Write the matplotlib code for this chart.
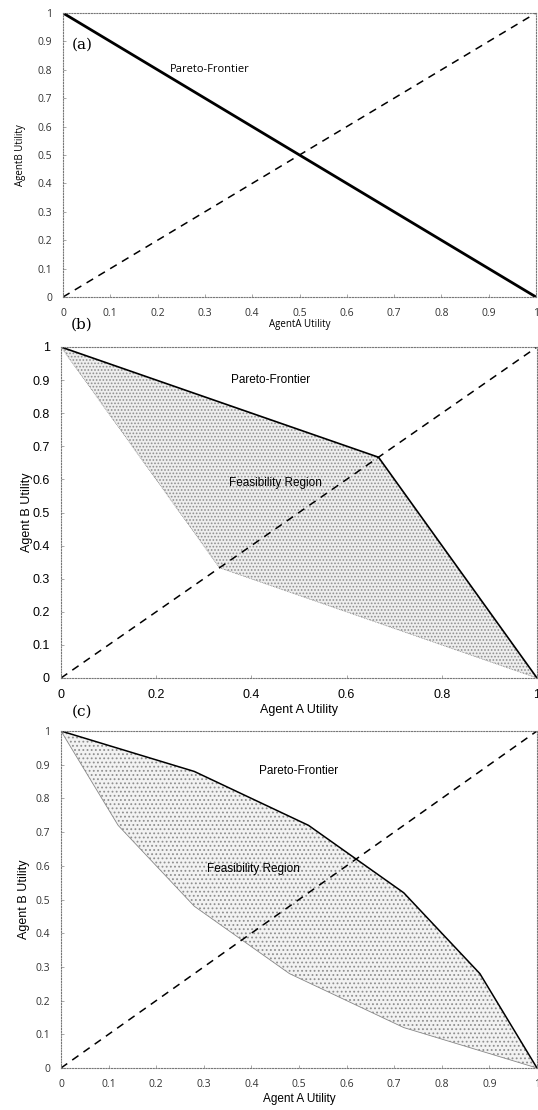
import numpy as np
import matplotlib
matplotlib.use("Agg")
import matplotlib.pyplot as plt

# panel (a): linear frontier
a_front_x = [0, 1]
a_front_y = [1, 0]

# panel (b): frontier and lower boundary of feasible region
b_front_x = [0, 0.667, 1]
b_front_y = [1, 0.667, 0]
b_low_x = [0, 0.333, 1]
b_low_y = [1, 0.333, 0]

# panel (c)
c_front_x = [0, 0.28, 0.52, 0.72, 0.88, 1]
c_front_y = [1, 0.88, 0.72, 0.52, 0.28, 0]
c_low_x = [0, 0.12, 0.28, 0.48, 0.72, 1]
c_low_y = [1, 0.72, 0.48, 0.28, 0.12, 0]

diag = [0, 1]
ticks10 = ["0", "0.1", "0.2", "0.3", "0.4", "0.5", "0.6", "0.7", "0.8", "0.9", "1"]
ticks5 = ["0", "0.2", "0.4", "0.6", "0.8", "1"]

W, H = 538, 1110
fig = plt.figure(figsize=(W / 100, H / 100), dpi=100)

def box(l, t, r, b):
    return [l / W, (H - b) / H, (r - l) / W, (b - t) / H]

ax_a = fig.add_axes(box(63, 13, 536, 297))
ax_b = fig.add_axes(box(61, 347, 537, 678))
ax_c = fig.add_axes(box(61, 731, 537, 1068))

hatch_col = "#8f8f8f"
plt.rcParams["hatch.color"] = hatch_col
plt.rcParams["hatch.linewidth"] = 0.8


def style(ax, tick_font, tick_size, tick_color):
    ax.set_xlim(0, 1)
    ax.set_ylim(0, 1)
    for s in ax.spines.values():
        s.set_linestyle((0, (1, 1.5)))
        s.set_color("#777777")
        s.set_linewidth(0.8)
    ax.tick_params(length=2, width=0.6, color="#999999", direction="in",
                   labelsize=tick_size, labelcolor=tick_color, pad=8)
    for lab in ax.get_xticklabels() + ax.get_yticklabels():
        lab.set_fontfamily(tick_font)


# (a)
ax_a.plot(a_front_x, a_front_y, color="black", lw=2.0)
ax_a.plot(diag, diag, color="black", lw=1.1, ls=(0, (5, 4)))
ax_a.set_xticks(np.arange(0, 1.01, 0.1))
ax_a.set_yticks(np.arange(0, 1.01, 0.1))
ax_a.set_xticklabels(ticks10)
ax_a.set_yticklabels(ticks10)
style(ax_a, "Open Sans", 7.5, "#333333")
ax_a.set_xlabel("AgentA Utility", fontsize=7, family="Open Sans", labelpad=0)
ax_a.set_ylabel("AgentB Utility", fontsize=7, family="Open Sans", labelpad=8)
ax_a.text(0.31, 0.80, "Pareto-Frontier", fontsize=8, family="Open Sans",
          ha="center", va="center", transform=ax_a.transAxes)
ax_a.text(0.04, 0.887, "(a)", fontsize=11, family="DejaVu Serif",
          ha="center", va="center", transform=ax_a.transAxes)

# (b)
ax_b.fill(b_front_x + b_low_x[::-1][1:-1], b_front_y + b_low_y[::-1][1:-1],
          facecolor="#eeeeee", edgecolor=hatch_col, hatch=".....", lw=0)
ax_b.plot(b_low_x, b_low_y, color="#888888", lw=0.6, ls=(0, (1, 1)))
ax_b.plot(b_front_x, b_front_y, color="black", lw=1.2)
ax_b.plot(diag, diag, color="black", lw=1.1, ls=(0, (5, 4)))
ax_b.set_xticks([0, 0.2, 0.4, 0.6, 0.8, 1])
ax_b.set_xticklabels(ticks5)
ax_b.set_yticks(np.arange(0, 1.01, 0.1))
ax_b.set_yticklabels(ticks10)
style(ax_b, "Liberation Sans", 9, "black")
ax_b.set_xlabel("Agent A Utility", fontsize=9, family="Liberation Sans", labelpad=2)
ax_b.set_ylabel("Agent B Utility", fontsize=9, family="Liberation Sans", labelpad=0)
ax_b.text(0.44, 0.90, "Pareto-Frontier", fontsize=8.5, family="Liberation Sans",
          ha="center", va="center", transform=ax_b.transAxes)
ax_b.text(0.45, 0.59, "Feasibility Region", fontsize=8.5, family="Liberation Sans",
          ha="center", va="center", transform=ax_b.transAxes)
fig.text(82 / W, 1 - 325 / H, "(b)", fontsize=11, family="DejaVu Serif",
         ha="center", va="center")

# (c)
ax_c.fill(c_front_x + c_low_x[::-1][1:-1], c_front_y + c_low_y[::-1][1:-1],
          facecolor="#f2f2f2", edgecolor=hatch_col, hatch="....", lw=0)
ax_c.plot(c_low_x, c_low_y, color="#888888", lw=0.6)
ax_c.plot(c_front_x, c_front_y, color="black", lw=1.1)
ax_c.plot(diag, diag, color="black", lw=1.1, ls=(0, (5, 4)))
ax_c.set_xticks(np.arange(0, 1.01, 0.1))
ax_c.set_xticklabels(ticks10)
ax_c.set_yticks(np.arange(0, 1.01, 0.1))
ax_c.set_yticklabels(ticks10)
style(ax_c, "Open Sans", 7.5, "#333333")
ax_c.set_xlabel("Agent A Utility", fontsize=8.5, family="Liberation Sans", labelpad=2)
ax_c.set_ylabel("Agent B Utility", fontsize=9, family="Liberation Sans", labelpad=4)
ax_c.text(0.50, 0.88, "Pareto-Frontier", fontsize=8.5, family="Liberation Sans",
          ha="center", va="center", transform=ax_c.transAxes)
ax_c.text(0.405, 0.59, "Feasibility Region", fontsize=8.5, family="Liberation Sans",
          ha="center", va="center", transform=ax_c.transAxes)
fig.text(82 / W, 1 - 712 / H, "(c)", fontsize=11, family="DejaVu Serif",
         ha="center", va="center")

fig.savefig("out.png", dpi=100)
